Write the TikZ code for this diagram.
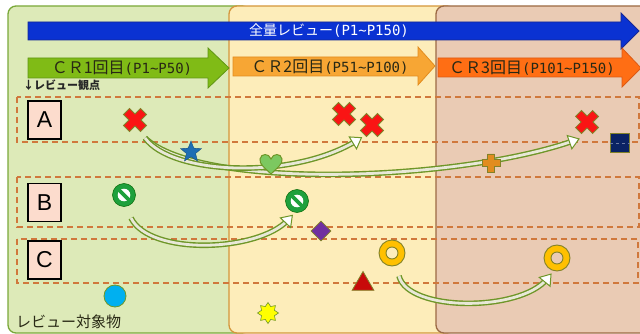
\documentclass[tikz,border=0pt]{standalone}
\usepackage{fontspec}
\setmainfont{Liberation Sans}
\newfontfamily\cjk{Noto Sans CJK JP}
\newfontfamily\monof{DejaVu Sans Mono}
\usetikzlibrary{shapes.geometric,arrows.meta}
\definecolor{pG}{RGB}{221,234,184}
\definecolor{pGb}{RGB}{122,168,58}
\definecolor{pY}{RGB}{253,237,186}
\definecolor{pYb}{RGB}{212,150,60}
\definecolor{pP}{RGB}{234,203,180}
\definecolor{pPb}{RGB}{156,106,68}
\definecolor{bluearr}{RGB}{10,50,210}
\definecolor{bluearrb}{RGB}{20,40,150}
\definecolor{cr1}{RGB}{128,187,22}
\definecolor{cr1b}{RGB}{96,150,20}
\definecolor{cr2}{RGB}{247,166,52}
\definecolor{cr2b}{RGB}{226,140,30}
\definecolor{cr3}{RGB}{255,110,20}
\definecolor{cr3b}{RGB}{220,90,20}
\definecolor{txtd}{RGB}{40,40,20}
\definecolor{rowd}{RGB}{208,120,60}
\definecolor{lblfill}{RGB}{252,220,205}
\definecolor{olv}{RGB}{110,150,40}
\definecolor{bandf}{RGB}{232,232,215}
\definecolor{xred}{RGB}{250,20,20}
\definecolor{xout}{RGB}{130,130,40}
\definecolor{nogreen}{RGB}{30,160,60}
\definecolor{heartg}{RGB}{124,200,96}
\definecolor{starb}{RGB}{30,110,180}
\definecolor{plusor}{RGB}{225,140,30}
\definecolor{navy2}{RGB}{10,35,100}
\definecolor{purp}{RGB}{112,48,160}
\definecolor{ringy}{RGB}{255,192,0}
\definecolor{trired}{RGB}{200,10,10}
\definecolor{cyan2}{RGB}{0,176,240}
\definecolor{yel8}{RGB}{255,255,0}
\tikzset{
  panel/.style={rounded corners=8pt, line width=1.3pt},
  rowbox/.style={draw=rowd, dashed, dash pattern=on 6pt off 4pt, line width=1.4pt},
  lbl/.style={draw=black, fill=lblfill, line width=1.2pt, minimum width=33pt, minimum height=38pt, inner sep=0pt, font=\fontsize{23}{23}\selectfont},
  carrow/.style={draw=olv, line width=1.4pt, double=bandf, double distance=2.8pt},
  headtri/.style={isosceles triangle, isosceles triangle apex angle=70, sloped, allow upside down, draw=olv, fill=white, line width=1pt, minimum size=10pt, inner sep=0pt, anchor=center},
  redx/.pic={\path[fill=xred, draw=xout, line width=0.8pt, rotate=45]
     (-4.2,-12)--(4.2,-12)--(4.2,-4.2)--(12,-4.2)--(12,4.2)--(4.2,4.2)--(4.2,12)--(-4.2,12)--(-4.2,4.2)--(-12,4.2)--(-12,-4.2)--(-4.2,-4.2)--cycle;},
  noentry/.pic={\fill[nogreen] (0,0) circle (11.5); \fill[white] (0,0) circle (6.3);
     \draw[nogreen, line width=3.8pt] (-5.5,-5.5)--(5.5,5.5);
     \draw[green!40!black, line width=0.5pt] (0,0) circle (11.5);},
  donut/.pic={\path[fill=ringy, even odd rule, draw=xout, line width=0.9pt] (0,0) circle (13) (0,0) circle (6);},
  plussym/.pic={\path[fill=plusor, draw=xout, line width=0.8pt]
     (-3.5,-9)--(3.5,-9)--(3.5,-3.5)--(9,-3.5)--(9,3.5)--(3.5,3.5)--(3.5,9)--(-3.5,9)--(-3.5,3.5)--(-9,3.5)--(-9,-3.5)--(-3.5,-3.5)--cycle;},
  heartsym/.pic={\path[fill=heartg, draw=olv, line width=1pt]
     (0,10) .. controls (-6,4) and (-12,0) .. (-11,-5) .. controls (-10,-11) and (-2,-11) .. (0,-5)
     .. controls (2,-11) and (10,-11) .. (11,-5) .. controls (12,0) and (6,4) .. (0,10) -- cycle;}
}
\begin{document}
\begin{tikzpicture}[x=1pt,y=-1pt]
\useasboundingbox (0,0) rectangle (640,334);
\clip (0,0) rectangle (640,334);
% column panels
\draw[panel, fill=pG, draw=pGb] (8,6) rectangle (250,333);
\draw[panel, fill=pY, draw=pYb] (229,6) rectangle (455,333);
\draw[panel, fill=pP, draw=pPb] (436,6) rectangle (660,333);
% big blue arrow
\draw[fill=bluearr, draw=bluearrb, line width=0.8pt] (28,22)--(621,22)--(621,13)--(639,31)--(621,49)--(621,40)--(28,40)--cycle;
\node[text=white] (full) at (329,31) {\cjk\fontsize{14}{14}\selectfont 全量レビュー{\monof\fontsize{14}{14}\selectfont(P1\textasciitilde P150)}};
% CR arrows
\draw[fill=cr1, draw=cr1b, line width=0.8pt] (28,58)--(208,58)--(208,48)--(229,68)--(208,88)--(208,78)--(28,78)--cycle;
\draw[fill=cr2, draw=cr2b, line width=0.8pt] (233,57)--(418,57)--(418,47)--(435,66)--(418,85)--(418,76)--(233,76)--cycle;
\draw[fill=cr3, draw=cr3b, line width=0.8pt] (438,58)--(622,58)--(622,48)--(641,68)--(622,87)--(622,77)--(438,77)--cycle;
\node[text=txtd] (cr1t) at (122,68) {\cjk\fontsize{16}{16}\selectfont ＣＲ1回目{\monof\fontsize{14}{14}\selectfont(P1\textasciitilde P50)}};
\node[text=txtd] (cr2t) at (330,67) {\cjk\fontsize{16}{16}\selectfont ＣＲ2回目{\monof\fontsize{14}{14}\selectfont(P51\textasciitilde P100)}};
\node[text=txtd] (cr3t) at (532,68) {\cjk\fontsize{16}{16}\selectfont ＣＲ3回目{\monof\fontsize{14}{14}\selectfont(P101\textasciitilde P150)}};
\node[anchor=west, inner sep=0pt, text=black!85] (kanten) at (23,85) {\cjk\bfseries\fontsize{11}{11}\selectfont ↓レビュー観点};
% rows
\draw[rowbox] (17,97) rectangle (639,142);
\draw[rowbox] (17,177) rectangle (639,227);
\draw[rowbox] (17,239) rectangle (638,283);
\node[lbl] (la) at (44.5,120) {A};
\node[lbl] (lb) at (44.5,202.5) {B};
\node[lbl] (lc) at (44.5,260) {C};
% curved arrows
\coordinate (ta) at (145,138);
\coordinate (ha1) at (356,141);
\coordinate (ha2) at (573,141);
\coordinate (tb) at (131,218);
\coordinate (hb) at (288,220);
\coordinate (tc) at (399,276);
\coordinate (hc) at (547,279);
\draw[carrow] (ta) .. controls (200,190) and (455,182) .. (ha2) node[headtri, pos=1] (hd2) {};
\draw[carrow] (ta) .. controls (172,175) and (292,180) .. (ha1) node[headtri, pos=1] (hd1) {};
\draw[carrow] (tb) .. controls (150,256) and (258,252) .. (hb) node[headtri, pos=1] (hdb) {};
\draw[carrow] (tc) .. controls (408,312) and (520,312) .. (hc) node[headtri, pos=1] (hdc) {};
% symbols
\pic at (135,120) {redx};
\pic at (344,114) {redx};
\pic at (372,125) {redx};
\pic at (587,122) {redx};
\node[draw=xout, fill=navy2, line width=0.9pt, minimum size=19pt, inner sep=0pt] (sq) at (620,143) {};
\draw[navy2!60!white, line width=0.5pt, dashed] (sq.west) -- (sq.east);
\node[star, star points=5, star point ratio=2.3, minimum size=22pt, inner sep=0pt, fill=starb, draw=starb!70!black, line width=0.4pt] (st) at (191,152) {};
\pic at (271,164) {heartsym};
\pic at (491,163) {plussym};
\pic at (124,195) {noentry};
\pic at (297,201) {noentry};
\node[diamond, minimum size=20pt, inner sep=0pt, fill=purp, draw=xout, line width=0.6pt] (dm) at (321,231) {};
\pic at (392,253) {donut};
\pic at (557,258) {donut};
\node[regular polygon, regular polygon sides=3, minimum size=25pt, inner sep=0pt, fill=trired, draw=xout, line width=0.8pt] (tri) at (363,284) {};
\node[circle, minimum size=22pt, inner sep=0pt, fill=cyan2, draw=olv, line width=0.8pt] (cy) at (115,296) {};
\node[star, star points=8, star point ratio=1.5, minimum size=21pt, inner sep=0pt, fill=yel8, draw=olv, line width=0.6pt] (s8) at (268,313) {};
\node[anchor=west, inner sep=0pt, text=txtd] (obj) at (16,322) {\cjk\fontsize{15}{15}\selectfont レビュー対象物};
\end{tikzpicture}
\end{document}
